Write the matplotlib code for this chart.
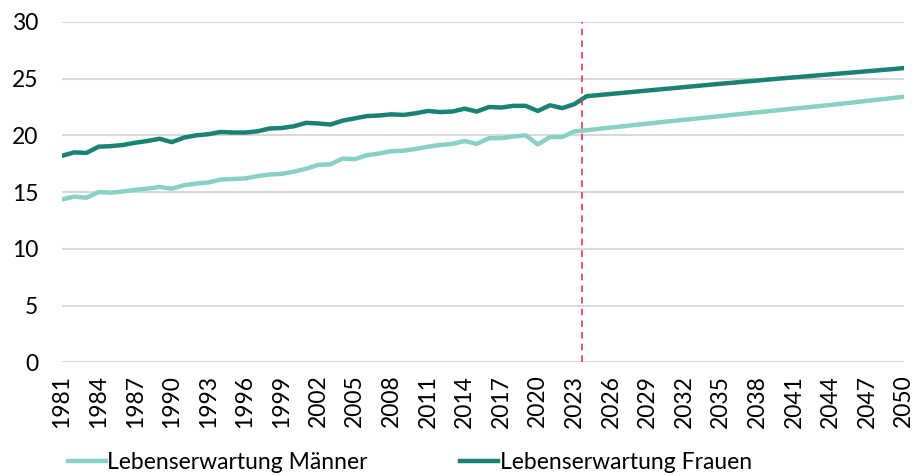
import numpy as np
import matplotlib.pyplot as plt

# Lebenserwartung im Alter 65 (Jahre), 1981-2050
years = list(range(1981, 2051))

maenner = [
    14.35, 14.6, 14.5, 15.0, 14.95, 15.05, 15.2, 15.3, 15.45, 15.3,
    15.6, 15.75, 15.85, 16.1, 16.15, 16.2, 16.4, 16.55, 16.6, 16.8,
    17.05, 17.4, 17.45, 17.95, 17.9, 18.25, 18.4, 18.6, 18.65, 18.8,
    19.0, 19.15, 19.25, 19.5, 19.25, 19.75, 19.75, 19.9, 20.0, 19.2,
    19.85, 19.85, 20.35,
    20.45, 20.57, 20.69, 20.8, 20.92, 21.03, 21.15, 21.26, 21.37, 21.48,
    21.59, 21.7, 21.81, 21.92, 22.03, 22.14, 22.25, 22.36, 22.46, 22.57,
    22.68, 22.8, 22.92, 23.04, 23.16, 23.28, 23.4,
]

frauen = [
    18.2, 18.5, 18.45, 19.0, 19.05, 19.15, 19.35, 19.5, 19.7, 19.4,
    19.8, 20.0, 20.1, 20.3, 20.25, 20.25, 20.35, 20.6, 20.65, 20.8,
    21.1, 21.05, 20.95, 21.3, 21.5, 21.7, 21.75, 21.85, 21.8, 21.95,
    22.15, 22.05, 22.1, 22.35, 22.1, 22.5, 22.45, 22.6, 22.6, 22.15,
    22.65, 22.4, 22.75,
    23.45, 23.55, 23.65, 23.75, 23.85, 23.95, 24.05, 24.15, 24.25, 24.35,
    24.45, 24.55, 24.64, 24.74, 24.83, 24.93, 25.02, 25.11, 25.2, 25.29,
    25.38, 25.47, 25.56, 25.65, 25.74, 25.83, 25.93,
]

prognose_start = 2023.6
labels = ["Lebenserwartung Männer", "Lebenserwartung Frauen"]

plt.rcParams['font.family'] = ['Lato', 'DejaVu Sans']

fig = plt.figure(figsize=(9.16, 4.76), dpi=100)
ax = fig.add_axes([0.0677, 0.239, 0.919, 0.715])

ax.plot(years, maenner, color='#88D1C4', lw=3.2, label=labels[0], solid_joinstyle='round')
ax.plot(years, frauen, color='#1A8275', lw=3.2, label=labels[1], solid_joinstyle='round')
ax.axvline(prognose_start, color='#E8384F', lw=1.2, ls=(0, (4, 3)))

ax.set_xlim(1981, 2050)
ax.set_ylim(0, 30)
ax.set_yticks(range(0, 31, 5))
ax.set_xticks(years[::3])
ax.set_xticklabels([str(y) for y in years[::3]], rotation=90)
ax.grid(axis='y', color='#D9D9D9', lw=1.5)
ax.set_axisbelow(True)
for s in ax.spines.values():
    s.set_visible(False)
ax.tick_params(length=0, labelsize=16.5, colors='black')
ax.tick_params(axis='y', pad=17)
ax.tick_params(axis='x', pad=9)

fig.legend(loc='lower left', bbox_to_anchor=(0.0513, -0.038), ncol=2, frameon=False,
           fontsize=16.5, handlelength=1.66, handletextpad=0.08, columnspacing=4.0)

fig.savefig('out.png', dpi=100)
